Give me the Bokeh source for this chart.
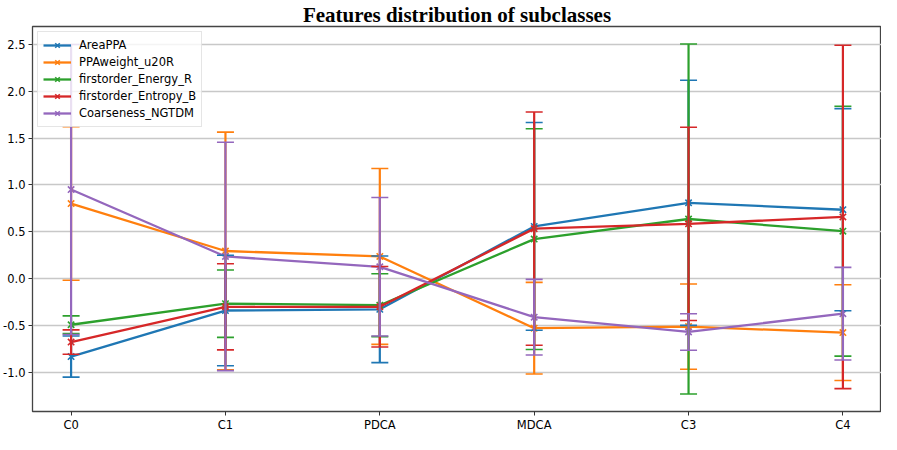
from bokeh.plotting import figure
from bokeh.models import (ColumnDataSource, Whisker, TeeHead, FixedTicker, Range1d,
                          Legend, LegendItem)
from bokeh.embed import file_html
from bokeh.resources import INLINE

categories = ["C0", "C1", "PDCA", "MDCA", "C3", "C4"]
series_names = ["AreaPPA", "PPAweight_u20R", "firstorder_Energy_R",
                "firstorder_Entropy_B", "Coarseness_NGTDM"]
area_mean = [-0.835, -0.343, -0.33, 0.556, 0.808, 0.734]
area_err = [0.22, 0.59, 0.57, 1.11, 1.31, 1.08]
ppaw_mean = [0.80, 0.293, 0.235, -0.532, -0.515, -0.579]
ppaw_err = [0.82, 1.27, 0.94, 0.49, 0.455, 0.512]
energy_mean = [-0.495, -0.27, -0.286, 0.42, 0.635, 0.505]
energy_err = [0.095, 0.36, 0.336, 1.18, 1.87, 1.335]
entropy_mean = [-0.68, -0.303, -0.303, 0.532, 0.583, 0.657]
entropy_err = [0.13, 0.46, 0.43, 1.246, 1.033, 1.835]
coarse_mean = [0.95, 0.235, 0.124, -0.414, -0.572, -0.377]
coarse_err = [1.55, 1.22, 0.74, 0.404, 0.195, 0.495]
y_ticks = [-1.0, -0.5, 0.0, 0.5, 1.0, 1.5, 2.0, 2.5]
y_tick_labels = ["-1.0", "-0.5", "0.0", "0.5", "1.0", "1.5", "2.0", "2.5"]

colors = ["#1f77b4", "#ff7f0e", "#2ca02c", "#d62728", "#9467bd"]
means = [area_mean, ppaw_mean, energy_mean, entropy_mean, coarse_mean]
errs = [area_err, ppaw_err, energy_err, entropy_err, coarse_err]

xs = list(range(len(categories)))
lo_all = min(m - e for ms, es in zip(means, errs) for m, e in zip(ms, es))
hi_all = max(m + e for ms, es in zip(means, errs) for m, e in zip(ms, es))
pad = 0.05 * (hi_all - lo_all)
xpad = 0.05 * (len(categories) - 1)

p = figure(width=881, height=434, output_backend="svg", toolbar_location=None,
           x_range=Range1d(-xpad, len(categories) - 1 + xpad),
           y_range=Range1d(lo_all - pad, hi_all + pad),
           min_border_left=2, min_border_right=0, min_border_bottom=0, min_border_top=0)

p.title.text = "Features distribution of subclasses"
p.title.align = "center"
p.title.text_font = "Liberation Serif"
p.title.text_font_style = "bold"
p.title.text_font_size = "21px"
p.title.text_color = "black"
p.title.standoff = 0
p.title.offset = 0

p.outline_line_color = "#444444"
p.outline_line_width = 1.3
p.xgrid.visible = False
p.ygrid.grid_line_color = "#c8c8c8"
p.ygrid.grid_line_width = 1.3

for ax in (p.xaxis, p.yaxis):
    ax.axis_line_color = None
    ax.major_tick_line_color = "#333333"
    ax.major_tick_out = 4
    ax.major_tick_in = 0
    ax.minor_tick_line_color = None
    ax.major_label_text_font = "DejaVu Sans"
    ax.major_label_text_font_size = "11.5px"
    ax.major_label_text_color = "black"
    ax.major_label_standoff = 3
p.xaxis.major_label_standoff = 2

p.xaxis.ticker = FixedTicker(ticks=xs)
p.xaxis.major_label_overrides = {i: c for i, c in enumerate(categories)}
p.yaxis.ticker = FixedTicker(ticks=y_ticks)
p.yaxis.major_label_overrides = {t: l for t, l in zip(y_ticks, y_tick_labels)}

items = []
for name, color, ms, es in zip(series_names, colors, means, errs):
    src = ColumnDataSource(dict(x=xs, y=ms,
                                lo=[m - e for m, e in zip(ms, es)],
                                hi=[m + e for m, e in zip(ms, es)]))
    ln = p.line("x", "y", source=src, line_color=color, line_width=2.3)
    sc = p.scatter("x", "y", source=src, marker="x", size=9, line_color=color, line_width=1.6)
    w = Whisker(source=src, base="x", lower="lo", upper="hi", dimension="height",
                line_color=color, line_width=2.2, level="glyph",
                upper_head=TeeHead(size=17, line_color=color, line_width=1.6),
                lower_head=TeeHead(size=17, line_color=color, line_width=1.6))
    p.add_layout(w)
    leg_bar = p.scatter(x=[], y=[], marker="cross", size=15, line_color=color, line_width=1.8)
    items.append(LegendItem(label=name, renderers=[ln, sc, leg_bar]))

legend = Legend(items=items, location="top_left")
legend.label_text_font = "DejaVu Sans"
legend.label_text_font_size = "11.5px"
legend.label_text_color = "black"
legend.glyph_width = 28
legend.glyph_height = 16
legend.label_height = 16
legend.spacing = 1
legend.padding = 5
legend.margin = 5
legend.label_standoff = 8
legend.border_line_color = "#cccccc"
legend.border_line_width = 1
legend.background_fill_alpha = 0.8
p.add_layout(legend, "center")

open("out.html", "w").write(file_html(p, INLINE))
